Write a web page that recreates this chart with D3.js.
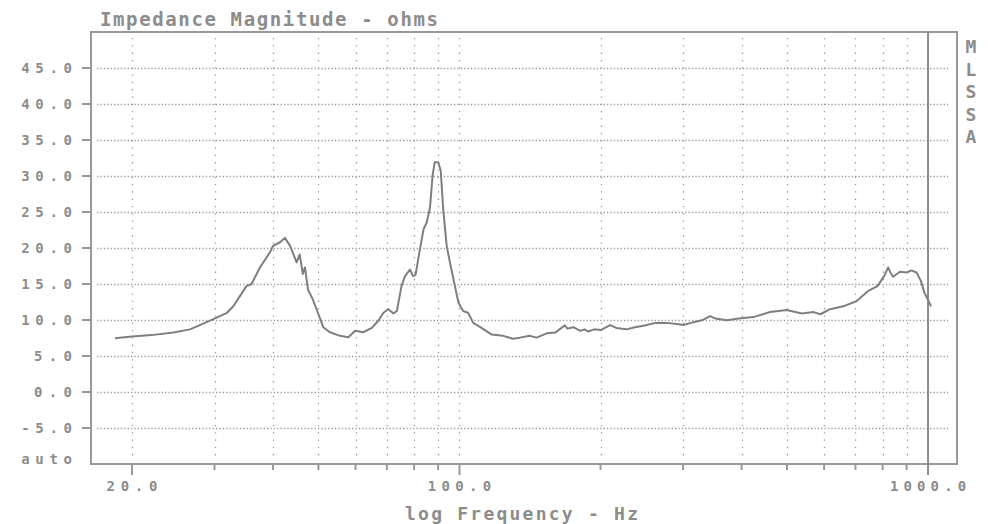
<!DOCTYPE html>
<html>
<head>
<meta charset="utf-8">
<script src="https://cdn.jsdelivr.net/npm/d3@7"></script>
<style>
  html, body { margin: 0; padding: 0; background: #fff; }
  svg { display: block; }
  text { font-family: "DejaVu Sans Mono", "Liberation Mono", monospace; font-weight: bold; fill: #8c8c8c; }
</style>
</head>
<body>
<div id="viz"></div>
<script>
// Impedance curve (Hz, ohms)
const freqs = [
  18.4, 20.0, 22.0, 24.5, 26.6, 27.9, 30.0, 31.9, 32.9, 35.1, 36.0, 37.5, 39.4, 40.0,
  41.4, 42.4, 43.5, 44.9, 45.6, 46.3, 46.8, 47.5, 48.6, 50.0, 51.2, 52.9, 55.6, 57.9,
  59.9, 62.3, 65.0, 67.1, 68.8, 70.5, 72.3, 73.5, 75.2, 76.5, 78.4, 79.6, 80.6, 82.1,
  83.8, 85.1, 86.5, 87.6, 88.5, 90.1, 91.2, 92.3, 93.9, 95.4, 97.4, 99.5, 101.8, 104.3,
  107, 111.4, 117, 124, 130, 134.6, 141, 146, 153.6, 160, 167.8, 170, 175, 181, 185, 188,
  194, 200, 209.7, 216, 227, 237, 247, 262, 277, 294, 300, 316, 329, 343, 352, 372, 394,
  424, 460, 499, 538, 570, 589, 618, 659, 703, 744, 780, 806, 822, 831, 842, 871, 901,
  921, 945, 966, 982, 998, 1015
];
const ohms = [
  7.46, 7.7, 7.9, 8.25, 8.7, 9.3, 10.2, 11.0, 11.9, 14.7, 15.0, 17.3, 19.4, 20.3,
  20.8, 21.4, 20.3, 18.0, 19.1, 16.4, 17.3, 14.2, 12.9, 10.8, 9.0, 8.3, 7.8, 7.6,
  8.5, 8.3, 8.9, 9.9, 11.0, 11.5, 10.9, 11.25, 14.7, 16.1, 17.0, 16.1, 16.3, 19.4,
  22.6, 23.5, 25.6, 30.0, 31.9, 31.9, 30.7, 25.4, 20.3, 18.0, 15.2, 12.4, 11.25, 11.0,
  9.6, 8.9, 8.0, 7.8, 7.4, 7.55, 7.8, 7.55, 8.15, 8.25, 9.26, 8.8, 9.0, 8.5, 8.7, 8.4,
  8.7, 8.6, 9.3, 8.9, 8.7, 9.0, 9.2, 9.6, 9.6, 9.4, 9.3, 9.7, 9.96, 10.55, 10.2, 9.96, 10.2,
  10.4, 11.1, 11.4, 10.9, 11.1, 10.8, 11.5, 11.9, 12.6, 14.0, 14.7, 16.1, 17.3, 16.6,
  16.0, 16.7, 16.6, 16.9, 16.6, 15.4, 13.8, 12.9, 11.9
];

const yTicks = [-5, 0, 5, 10, 15, 20, 25, 30, 35, 40, 45];
const xGrid = [20, 30, 40, 50, 60, 70, 80, 90, 100, 200, 300, 400, 500, 600, 700, 800, 900];
const xLabels = [20, 100, 1000];

const width = 988, height = 524;
const pitch = 12.7; // character pitch of the plotter font

const svg = d3.select("#viz").append("svg")
  .attr("width", width)
  .attr("height", height);

const x = d3.scaleLog().domain([16.35, 1153]).range([91, 957]);
const y = d3.scaleLinear().domain([-10, 50]).range([464, 32]);

// dotted grid
svg.append("g")
  .selectAll("line")
  .data(yTicks)
  .join("line")
  .attr("x1", 97).attr("x2", 948)
  .attr("y1", d => Math.round(y(d)) + 0.5).attr("y2", d => Math.round(y(d)) + 0.5)
  .attr("stroke", "#9a9a9a")
  .attr("stroke-width", 1.3)
  .attr("stroke-dasharray", "1.3,2.1");

svg.append("g")
  .selectAll("line")
  .data(xGrid)
  .join("line")
  .attr("x1", d => Math.round(x(d)) + 0.5).attr("x2", d => Math.round(x(d)) + 0.5)
  .attr("y1", 38).attr("y2", 460)
  .attr("stroke", "#9a9a9a")
  .attr("stroke-width", 1.3)
  .attr("stroke-dasharray", "1.3,6");

// frame
svg.append("rect")
  .attr("x", 91).attr("y", 32)
  .attr("width", 866).attr("height", 432)
  .attr("fill", "none")
  .attr("stroke", "#999")
  .attr("stroke-width", 2);

// solid marker at 1000 Hz
svg.append("line")
  .attr("x1", x(1000)).attr("x2", x(1000))
  .attr("y1", 32).attr("y2", 475)
  .attr("stroke", "#8c8c8c")
  .attr("stroke-width", 2);

// y ticks + labels
const yAxis = svg.append("g");
yAxis.selectAll("line")
  .data(yTicks)
  .join("line")
  .attr("x1", 82).attr("x2", 91)
  .attr("y1", d => y(d)).attr("y2", d => y(d))
  .attr("stroke", "#999")
  .attr("stroke-width", 2);

yAxis.selectAll("text")
  .data(yTicks)
  .join("text")
  .attr("x", 72)
  .attr("y", d => y(d) + 5)
  .attr("text-anchor", "end")
  .attr("font-size", 14)
  .attr("textLength", d => d.toFixed(1).length * pitch)
  .attr("lengthAdjust", "spacing")
  .text(d => d.toFixed(1));

svg.append("text")
  .attr("x", 72).attr("y", 464)
  .attr("text-anchor", "end")
  .attr("font-size", 14)
  .attr("textLength", 4 * pitch)
  .attr("lengthAdjust", "spacing")
  .text("auto");

// x ticks + labels
const xAxis = svg.append("g");
xAxis.selectAll("line")
  .data(xGrid)
  .join("line")
  .attr("x1", d => x(d)).attr("x2", d => x(d))
  .attr("y1", 464)
  .attr("y2", d => xLabels.includes(d) ? 475 : 470)
  .attr("stroke", "#999")
  .attr("stroke-width", 2);

xAxis.selectAll("text")
  .data(xLabels)
  .join("text")
  .attr("x", d => x(d))
  .attr("y", 491)
  .attr("text-anchor", "middle")
  .attr("font-size", 14)
  .attr("textLength", d => d.toFixed(1).length * pitch)
  .attr("lengthAdjust", "spacing")
  .text(d => d.toFixed(1));

// titles
svg.append("text")
  .attr("x", 100).attr("y", 26)
  .attr("font-size", 19)
  .attr("textLength", 338)
  .attr("lengthAdjust", "spacing")
  .text("Impedance Magnitude - ohms");

svg.append("text")
  .attr("x", 405).attr("y", 520)
  .attr("font-size", 18)
  .attr("textLength", 233)
  .attr("lengthAdjust", "spacing")
  .text("log Frequency - Hz");

svg.append("g")
  .selectAll("text")
  .data(["M", "L", "S", "S", "A"])
  .join("text")
  .attr("x", 971)
  .attr("y", (d, i) => 53 + i * 22.5)
  .attr("text-anchor", "middle")
  .attr("font-size", 18)
  .text(d => d);

// impedance curve
const pts = freqs.map((f, i) => [f, ohms[i]]);
svg.append("path")
  .datum(pts)
  .attr("fill", "none")
  .attr("stroke", "#7f7f7f")
  .attr("stroke-width", 2)
  .attr("stroke-linejoin", "round")
  .attr("d", d3.line().x(d => x(d[0])).y(d => y(d[1])));
</script>
</body>
</html>
